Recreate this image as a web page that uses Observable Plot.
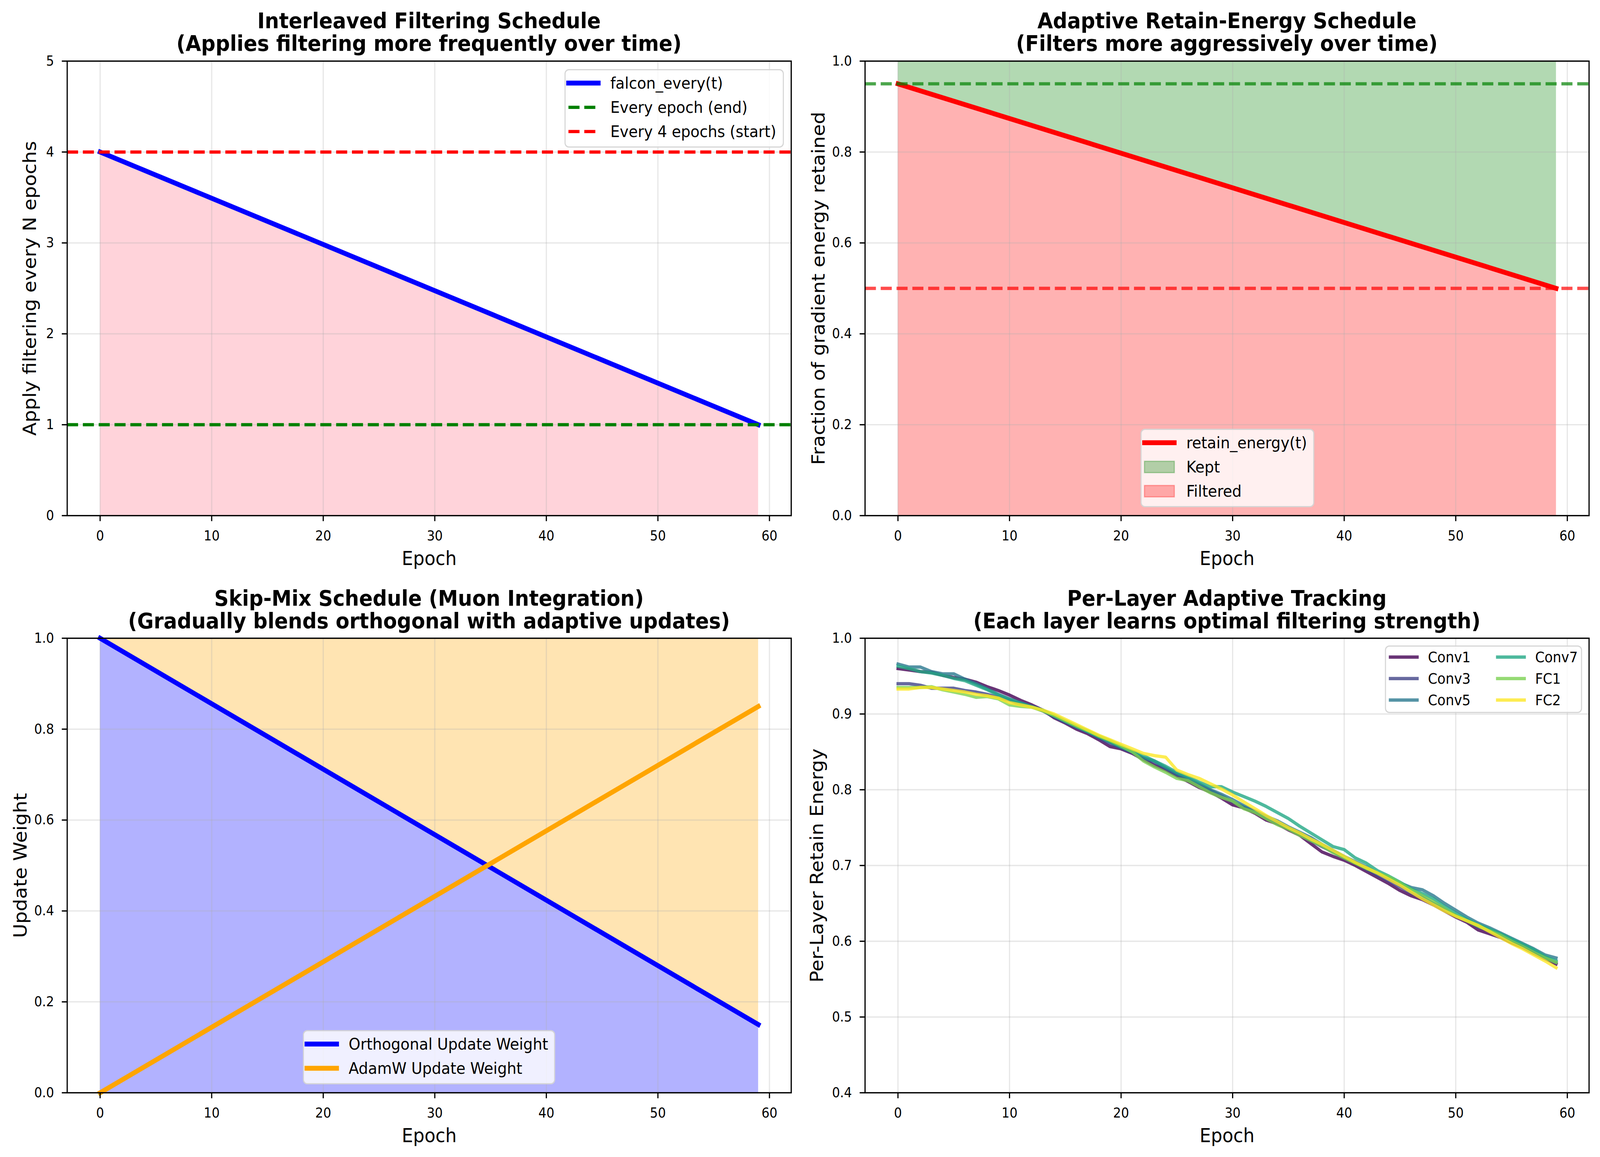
<!DOCTYPE html>
<html>
<head>
<meta charset="utf-8">
<script src="https://cdn.jsdelivr.net/npm/d3@7"></script>
<script src="https://cdn.jsdelivr.net/npm/@observablehq/plot@0.6"></script>
<style>
  html, body { margin: 0; padding: 0; background: #ffffff; overflow: hidden; }
  #wrap { position: relative; overflow: hidden; width: 4464px; height: 2963px; }
  #fig { position: absolute; left: 0; top: 0; width: 4464px; height: 2963px; background: #ffffff; font-family: "DejaVu Sans", sans-serif; overflow: hidden; transform-origin: 0 0; }
  .panel { position: absolute; }
  .title { position: absolute; width: 2400px; text-align: center; font-weight: bold; font-size: 56px; height: 70px; line-height: 70px; color: #000; white-space: nowrap; }
  .legend { position: absolute; box-sizing: border-box; background: rgba(255,255,255,0.8); border: 3px solid rgba(204,204,204,0.8); border-radius: 12px; z-index: 5; }
  .legend .lt { position: absolute; white-space: nowrap; color: #000; transform: translateY(-50%); line-height: 1.2; }
  .legend svg { position: absolute; overflow: visible; }
</style>
</head>
<body>
<div id="wrap"><div id="fig"></div></div>
<script>
// ---------------- data ----------------
const xTicks = [0, 10, 20, 30, 40, 50, 60];
const scheduleEpochs = [0, 59];

// Panel 1: interleaved filtering schedule
const falconEvery = [4, 1];
const everyEpochEnd = 1;
const every4Start = 4;
const yTicks1 = [0, 1, 2, 3, 4, 5];

// Panel 2: adaptive retain-energy schedule
const retainEnergy = [0.95, 0.5];
const retainStart = 0.95;
const retainEnd = 0.5;
const yTicks01 = [0, 0.2, 0.4, 0.6, 0.8, 1.0];

// Panel 3: skip-mix schedule
const orthWeight = [1.0, 0.15];
const adamwWeight = [0.0, 0.85];

// Panel 4: per-layer adaptive tracking
const yTicks4 = [0.4, 0.5, 0.6, 0.7, 0.8, 0.9, 1.0];
const layerNames = ["Conv1", "Conv3", "Conv5", "Conv7", "FC1", "FC2"];
const layerColors = ["#440154", "#414487", "#2a788e", "#22a884", "#7ad151", "#fde725"];
const layerEpochs = d3.range(0, 60);
const conv1 = [0.960,0.958,0.956,0.955,0.951,0.948,0.946,0.942,0.936,0.931,0.925,0.918,0.912,
  0.905,0.895,0.888,0.880,0.874,0.866,0.857,0.854,0.848,0.840,0.832,0.826,0.818,0.811,0.803,0.797,0.789,0.780,
  0.776,0.769,0.760,0.755,0.747,0.740,0.729,0.718,0.712,0.707,
  0.700,0.692,0.684,0.676,0.667,0.660,0.655,0.648,0.640,0.632,
  0.625,0.615,0.610,0.605,0.598,0.592,0.584,0.577,0.570];
const conv3 = [0.940,0.940,0.938,0.934,0.934,0.934,0.931,0.929,0.926,0.922,0.918,0.913,0.910,
  0.904,0.896,0.889,0.882,0.876,0.868,0.861,0.855,0.849,0.842,0.836,0.828,0.820,0.813,0.806,0.799,0.792,0.784,
  0.777,0.771,0.763,0.756,0.749,0.742,0.733,0.725,0.718,0.710,
  0.703,0.695,0.687,0.680,0.672,0.664,0.658,0.650,0.642,0.634,
  0.627,0.619,0.614,0.607,0.600,0.593,0.585,0.578,0.572];
const conv5 = [0.966,0.962,0.962,0.956,0.953,0.953,0.946,0.940,0.933,0.926,0.920,0.915,0.910,
  0.905,0.897,0.890,0.883,0.877,0.870,0.863,0.856,0.850,0.842,0.838,0.829,0.821,0.815,0.808,0.800,0.794,0.787,
  0.779,0.772,0.765,0.759,0.751,0.744,0.737,0.728,0.720,0.712,
  0.705,0.698,0.690,0.684,0.677,0.671,0.668,0.660,0.650,0.641,
  0.632,0.624,0.618,0.611,0.604,0.597,0.590,0.582,0.578];
const conv7 = [0.963,0.960,0.956,0.954,0.951,0.947,0.944,0.938,0.932,0.925,0.919,0.914,0.909,
  0.905,0.898,0.891,0.884,0.877,0.870,0.864,0.857,0.851,0.845,0.838,0.831,0.823,0.817,0.810,0.804,0.804,0.797,
  0.791,0.785,0.778,0.770,0.762,0.752,0.743,0.734,0.725,0.721,
  0.710,0.703,0.693,0.686,0.678,0.669,0.663,0.656,0.646,0.637,
  0.629,0.622,0.616,0.610,0.603,0.596,0.589,0.580,0.574];
const fc1 = [0.935,0.935,0.935,0.936,0.932,0.929,0.926,0.922,0.923,0.920,0.912,0.910,0.909,
  0.904,0.898,0.891,0.884,0.878,0.871,0.865,0.858,0.850,0.838,0.830,0.823,0.815,0.812,0.804,0.796,0.790,0.785,
  0.775,0.770,0.762,0.754,0.748,0.740,0.733,0.726,0.717,0.710,
  0.703,0.696,0.690,0.685,0.677,0.668,0.660,0.652,0.643,0.634,
  0.627,0.620,0.614,0.608,0.600,0.593,0.585,0.578,0.572];
const fc2 = [0.933,0.933,0.935,0.935,0.933,0.931,0.929,0.926,0.924,0.921,0.915,0.912,0.909,
  0.905,0.900,0.893,0.886,0.879,0.872,0.866,0.860,0.854,0.848,0.845,0.843,0.826,0.820,0.815,0.808,0.801,0.793,
  0.784,0.775,0.766,0.758,0.750,0.743,0.735,0.728,0.720,0.712,
  0.704,0.697,0.690,0.682,0.674,0.665,0.656,0.648,0.640,0.633,
  0.627,0.621,0.613,0.605,0.597,0.590,0.582,0.574,0.565];
const layerSeries = [conv1, conv3, conv5, conv7, fc1, fc2];

// ---------------- helpers ----------------
const wrap = document.getElementById("wrap");
const fig = document.getElementById("fig");
const sx = window.innerWidth / 4464, sy = window.innerHeight / 2963;
if (Math.abs(sx - 1) > 0.005 || Math.abs(sy - 1) > 0.005) {
  fig.style.transform = `scale(${sx}, ${sy})`;
  wrap.style.width = window.innerWidth + "px";
  wrap.style.height = window.innerHeight + "px";
}

const PT = 300 / 72;           // px per point
const ML = 187, MR = 30, MT = 10, MB = 150;
const AX_W = 2020, AX_H = 1164;
const W = ML + AX_W + MR, H = MT + AX_H + MB;
const COL_LEFT = [0, 2226];
const ROW_TOP = [146, 1624];
const GRID = {stroke: "#b0b0b0", strokeOpacity: 0.3, strokeWidth: 0.8 * PT};
const DASH = `${7.4 * PT},${3.2 * PT}`;

function panel({col, row, yDomain, yTicks, yFormat, ylabel, ylabelDx, marks}) {
  const svg = Plot.plot({
    width: W, height: H,
    marginLeft: ML, marginRight: MR, marginTop: MT, marginBottom: MB,
    style: {fontFamily: "DejaVu Sans", fontSize: "35px", background: "transparent", color: "black", maxWidth: "none", overflow: "visible"},
    x: {domain: [-2.95, 61.95]},
    y: {domain: yDomain},
    color: {domain: layerNames, range: layerColors},
    marks: [
      ...marks.under,
      Plot.gridX(xTicks, GRID),
      Plot.gridY(yTicks, GRID),
      ...marks.over,
      Plot.frame({stroke: "black", strokeWidth: 0.8 * PT}),
      Plot.axisX({ticks: xTicks, tickFormat: d3.format("d"), tickSize: 3.5 * PT, tickPadding: 24, strokeWidth: 0.8 * PT, label: null}),
      Plot.axisY({ticks: yTicks, tickFormat: yFormat, tickSize: 3.5 * PT, tickPadding: 22, strokeWidth: 0.8 * PT, label: null}),
      Plot.text(["Epoch"], {frameAnchor: "bottom", dy: 110, lineAnchor: "middle", textAnchor: "middle", fontSize: 50}),
      Plot.text([ylabel], {frameAnchor: "left", dx: ylabelDx, rotate: -90, lineAnchor: "middle", textAnchor: "middle", fontSize: 50})
    ]
  });
  svg.classList.add("panel");
  svg.style.left = COL_LEFT[col] + "px";
  svg.style.top = ROW_TOP[row] + "px";
  fig.appendChild(svg);
}

function title(col, row, lines) {
  const cx = COL_LEFT[col] + ML + AX_W / 2;
  const tops = row === 0 ? [18, 76] : [1497, 1555];
  lines.forEach((t, i) => {
    const d = document.createElement("div");
    d.className = "title";
    d.textContent = t;
    d.style.left = (cx - 1200) + "px";
    d.style.top = tops[i] + "px";
    fig.appendChild(d);
  });
}

// legend: items {label, kind: "line"|"dash"|"patch", color, lw, opacity, col, row}
function legend({left, top, width, height, fs, firstRow, pitch, colOffsets, items}) {
  const box = document.createElement("div");
  box.className = "legend";
  box.style.left = left + "px"; box.style.top = top + "px";
  box.style.width = width + "px"; box.style.height = height + "px";
  box.style.fontSize = fs + "px";
  fig.appendChild(box);
  const b = 3; // border
  items.forEach(it => {
    const cy = firstRow + it.row * pitch - b;
    const hx = colOffsets[it.col] - b;
    const hl = 2 * fs;
    const ns = "http://www.w3.org/2000/svg";
    const s = document.createElementNS(ns, "svg");
    s.setAttribute("width", hl);
    s.setAttribute("height", fs);
    s.style.left = hx + "px";
    s.style.top = (cy - fs / 2) + "px";
    if (it.kind === "patch") {
      const r = document.createElementNS(ns, "rect");
      r.setAttribute("x", 0); r.setAttribute("y", fs / 2 - 0.35 * fs);
      r.setAttribute("width", hl); r.setAttribute("height", 0.7 * fs);
      r.setAttribute("fill", it.color); r.setAttribute("fill-opacity", it.opacity);
      r.setAttribute("stroke", it.color); r.setAttribute("stroke-opacity", it.opacity);
      r.setAttribute("stroke-width", 3);
      s.appendChild(r);
    } else {
      const l = document.createElementNS(ns, "line");
      l.setAttribute("x1", 0); l.setAttribute("x2", hl);
      l.setAttribute("y1", fs / 2); l.setAttribute("y2", fs / 2);
      l.setAttribute("stroke", it.color);
      l.setAttribute("stroke-width", it.lw);
      l.setAttribute("stroke-opacity", it.opacity ?? 1);
      if (it.kind === "dash") {
        l.setAttribute("stroke-dasharray", `${3.7 * it.lw},${1.6 * it.lw}`);
        l.setAttribute("stroke-linecap", "butt");
      } else {
        l.setAttribute("stroke-linecap", "square");
      }
      s.appendChild(l);
    }
    box.appendChild(s);
    const t = document.createElement("div");
    t.className = "lt";
    t.textContent = it.label;
    t.style.left = (hx + hl + 0.8 * fs) + "px";
    t.style.top = cy + "px";
    box.appendChild(t);
  });
}

// ---------------- panel 1 ----------------
const sched1 = scheduleEpochs.map((e, i) => ({epoch: e, v: falconEvery[i]}));
panel({
  col: 0, row: 0, yDomain: [0, 5], yTicks: yTicks1, yFormat: d3.format("d"),
  ylabel: "Apply filtering every N epochs", ylabelDx: -103,
  marks: {
    under: [Plot.areaY(sched1, {x: "epoch", y1: 0, y2: "v", fill: "pink", fillOpacity: 0.7})],
    over: [
      Plot.line(sched1, {x: "epoch", y: "v", stroke: "blue", strokeWidth: 3 * PT, strokeLinecap: "square"}),
      Plot.ruleY([everyEpochEnd], {stroke: "green", strokeWidth: 2 * PT, strokeDasharray: DASH}),
      Plot.ruleY([every4Start], {stroke: "red", strokeWidth: 2 * PT, strokeDasharray: DASH})
    ]
  }
});
title(0, 0, ["Interleaved Filtering Schedule", "(Applies filtering more frequently over time)"]);
legend({left: 1575, top: 177, width: 612, height: 201, fs: 41.7, firstRow: 36, pitch: 62, colOffsets: [11],
  items: [
    {label: "falcon_every(t)", kind: "line", color: "blue", lw: 3 * PT, col: 0, row: 0},
    {label: "Every epoch (end)", kind: "dash", color: "green", lw: 2 * PT, col: 0, row: 1},
    {label: "Every 4 epochs (start)", kind: "dash", color: "red", lw: 2 * PT, col: 0, row: 2}
  ]});

// ---------------- panel 2 ----------------
const sched2 = scheduleEpochs.map((e, i) => ({epoch: e, v: retainEnergy[i]}));
panel({
  col: 1, row: 0, yDomain: [0, 1], yTicks: yTicks01, yFormat: d3.format(".1f"),
  ylabel: "Fraction of gradient energy retained", ylabelDx: -129,
  marks: {
    under: [
      Plot.areaY(sched2, {x: "epoch", y1: "v", y2: 1, fill: "green", fillOpacity: 0.3}),
      Plot.areaY(sched2, {x: "epoch", y1: 0, y2: "v", fill: "red", fillOpacity: 0.3})
    ],
    over: [
      Plot.line(sched2, {x: "epoch", y: "v", stroke: "red", strokeWidth: 3 * PT, strokeLinecap: "square"}),
      Plot.ruleY([retainStart], {stroke: "green", strokeOpacity: 0.7, strokeWidth: 2 * PT, strokeDasharray: DASH}),
      Plot.ruleY([retainEnd], {stroke: "red", strokeOpacity: 0.7, strokeWidth: 2 * PT, strokeDasharray: DASH})
    ]
  }
});
title(1, 0, ["Adaptive Retain-Energy Schedule", "(Filters more aggressively over time)"]);
legend({left: 3182, top: 1098, width: 485, height: 201, fs: 41.7, firstRow: 36, pitch: 62, colOffsets: [11],
  items: [
    {label: "retain_energy(t)", kind: "line", color: "red", lw: 3 * PT, col: 0, row: 0},
    {label: "Kept", kind: "patch", color: "green", opacity: 0.3, col: 0, row: 1},
    {label: "Filtered", kind: "patch", color: "red", opacity: 0.3, col: 0, row: 2}
  ]});

// ---------------- panel 3 ----------------
const sched3 = scheduleEpochs.map((e, i) => ({epoch: e, orth: orthWeight[i], adamw: adamwWeight[i]}));
panel({
  col: 0, row: 1, yDomain: [0, 1], yTicks: yTicks01, yFormat: d3.format(".1f"),
  ylabel: "Update Weight", ylabelDx: -129,
  marks: {
    under: [
      Plot.areaY(sched3, {x: "epoch", y1: 0, y2: "orth", fill: "blue", fillOpacity: 0.3}),
      Plot.areaY(sched3, {x: "epoch", y1: "orth", y2: 1, fill: "orange", fillOpacity: 0.3})
    ],
    over: [
      Plot.line(sched3, {x: "epoch", y: "orth", stroke: "blue", strokeWidth: 3 * PT, strokeLinecap: "square"}),
      Plot.line(sched3, {x: "epoch", y: "adamw", stroke: "orange", strokeWidth: 3 * PT, strokeLinecap: "square"})
    ]
  }
});
title(0, 1, ["Skip-Mix Schedule (Muon Integration)", "(Gradually blends orthogonal with adaptive updates)"]);
legend({left: 845, top: 2638, width: 704, height: 139, fs: 41.7, firstRow: 36, pitch: 62, colOffsets: [11],
  items: [
    {label: "Orthogonal Update Weight", kind: "line", color: "blue", lw: 3 * PT, col: 0, row: 0},
    {label: "AdamW Update Weight", kind: "line", color: "orange", lw: 3 * PT, col: 0, row: 1}
  ]});

// ---------------- panel 4 ----------------
const layerData = layerNames.flatMap((name, k) =>
  layerEpochs.map((e, i) => ({layer: name, epoch: e, value: layerSeries[k][i]})));
panel({
  col: 1, row: 1, yDomain: [0.4, 1.0], yTicks: yTicks4, yFormat: d3.format(".1f"),
  ylabel: "Per-Layer Retain Energy", ylabelDx: -133,
  marks: {
    under: [],
    over: [
      Plot.line(layerData, {x: "epoch", y: "value", z: "layer", stroke: "layer", strokeWidth: 2 * PT, strokeOpacity: 0.8, strokeLinecap: "square", strokeLinejoin: "round"})
    ]
  }
});
title(1, 1, ["Per-Layer Adaptive Tracking", "(Each layer learns optimal filtering strength)"]);
legend({left: 3864, top: 1653, width: 550, height: 173, fs: 37.5, firstRow: 30, pitch: 55, colOffsets: [15, 314],
  items: layerNames.map((name, k) => ({label: name, kind: "line", color: layerColors[k], lw: 2 * PT, opacity: 0.8, col: Math.floor(k / 3), row: k % 3}))
});
</script>
</body>
</html>
